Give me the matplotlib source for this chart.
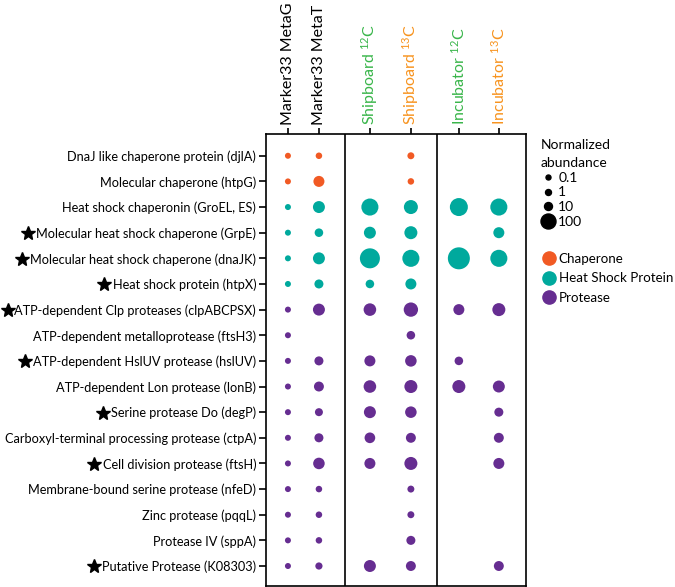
import matplotlib
matplotlib.use("Agg")
import matplotlib.pyplot as plt
import numpy as np
from matplotlib.lines import Line2D

ORANGE = "#f15a24"
TEAL = "#00a99d"
PURPLE = "#662d91"
GREEN = "#39b54a"
ORANGE_TXT = "#f7931e"

plt.rcParams.update({
    "font.family": ["Lato", "DejaVu Sans"],
    "mathtext.fontset": "custom",
    "mathtext.rm": "Lato",
    "mathtext.it": "Lato",
})

# ---- data ----
proteins = [
    "DnaJ like chaperone protein (djlA)",
    "Molecular chaperone (htpG)",
    "Heat shock chaperonin (GroEL, ES)",
    "Molecular heat shock chaperone (GrpE)",
    "Molecular heat shock chaperone (dnaJK)",
    "Heat shock protein (htpX)",
    "ATP-dependent Clp proteases (clpABCPSX)",
    "ATP-dependent metalloprotease (ftsH3)",
    "ATP-dependent HslUV protease (hslUV)",
    "ATP-dependent Lon protease (lonB)",
    "Serine protease Do (degP)",
    "Carboxyl-terminal processing protease (ctpA)",
    "Cell division protease (ftsH)",
    "Membrane-bound serine protease (nfeD)",
    "Zinc protease (pqqL)",
    "Protease IV (sppA)",
    "Putative Protease (K08303)",
]
starred = [False, False, False, True, True, True, True, False, True, False,
           True, False, True, False, False, False, True]
category = ["Chaperone", "Chaperone"] + ["Heat Shock Protein"] * 4 + ["Protease"] * 11

samples = ["Marker33 MetaG", "Marker33 MetaT",
           "Shipboard $^{12}$C", "Shipboard $^{13}$C",
           "Incubator $^{12}$C", "Incubator $^{13}$C"]
sample_colors = ["black", "black", GREEN, ORANGE_TXT, GREEN, ORANGE_TXT]

# normalized abundance per protein (rows) x sample (cols); nan = not detected
nan = np.nan
abundance = np.array([
    [1, 1.8, nan, 3, nan, nan],
    [1, 27, nan, 1.8, nan, nan],
    [1, 37, 170, 72, 215, 170],
    [1, 12, 37, 52, nan, 27],
    [1, 37, 360, 170, 600, 170],
    [1, 14, 12, 27, nan, nan],
    [1, 37, 45, 80, 27, 52],
    [1, nan, nan, 12, nan, nan],
    [1, 14, 27, 32, 12, nan],
    [1, 19, 45, 52, 52, 37],
    [1, 10, 37, 32, nan, 14],
    [1, 14, 24, 19, nan, 19],
    [1, 32, 27, 52, nan, 27],
    [1, 1.8, nan, 3, nan, nan],
    [1, 1.8, nan, 3, nan, nan],
    [1, 1.8, nan, 14, nan, nan],
    [1, 4, 37, 19, nan, 19],
])

legend_values = [0.1, 1, 10, 100]
cat_names = ["Chaperone", "Heat Shock Protein", "Protease"]
cat_colors = {"Chaperone": ORANGE, "Heat Shock Protein": TEAL, "Protease": PURPLE}

# ---- size scale: diameter in px vs log10 abundance ----
def diam_px(v):
    return np.interp(np.log10(v), [-1, 0, 1, 2, 3], [5, 6, 8, 15, 24])

def size_pts(v):
    return diam_px(v) * 0.72

fig = plt.figure(figsize=(6.75, 5.87), dpi=100)
ax = fig.add_axes([0.394, 0.0017, 0.385, 0.7705])

col_x = [22, 53, 104, 145, 193, 233]
for i in range(len(proteins)):
    for j in range(len(samples)):
        v = abundance[i, j]
        if np.isnan(v):
            continue
        ax.scatter(col_x[j], i, s=size_pts(v) ** 2, color=cat_colors[category[i]],
                   edgecolors="none", zorder=3)

for xs in [79, 171]:
    ax.axvline(xs, color="black", lw=1.2)

ax.set_xlim(0, 260)
ax.set_ylim(16.78, -0.86)
ax.xaxis.tick_top()
ax.set_xticks(col_x)
ax.set_xticklabels(samples, rotation=90, fontsize=11.5)
for lbl, c in zip(ax.get_xticklabels(), sample_colors):
    lbl.set_color(c)
ax.set_yticks(range(len(proteins)))
ax.set_yticklabels(proteins, fontsize=9.2)
ax.tick_params(axis="x", length=4, width=1.2, pad=2)
ax.tick_params(axis="y", length=5, width=1.2, pad=2)
for sp in ax.spines.values():
    sp.set_linewidth(1.2)

# size legend
size_handles = [Line2D([], [], ls="none", marker="o", color="black",
                       markersize=size_pts(v)) for v in legend_values]
leg1 = fig.legend(size_handles, ["0.1", "1", "10", "100"], title="Normalized\nabundance",
                  loc="upper left", bbox_to_anchor=(0.793, 0.772), frameon=False,
                  fontsize=10, title_fontsize=10, handletextpad=0.15, labelspacing=0.2,
                  handlelength=1.1, borderaxespad=0)
leg1._legend_box.align = "left"
leg1.get_title().set_linespacing(1.55)

cat_handles = [Line2D([], [], ls="none", marker="o", color=cat_colors[c],
                      markersize=9.5) for c in cat_names]
fig.legend(cat_handles, cat_names, loc="upper left", bbox_to_anchor=(0.795, 0.578),
           frameon=False, fontsize=9.6, handletextpad=0.25, labelspacing=0.55,
           handlelength=1.0, borderaxespad=0)

# stars in front of selected labels
fig.canvas.draw()
W, H = fig.get_size_inches() * fig.dpi
for lbl, st in zip(ax.get_yticklabels(), starred):
    if not st:
        continue
    bb = lbl.get_window_extent()
    sx = max(bb.x0 - 8.5, 8)
    fig.add_artist(Line2D([sx / W], [(bb.y0 + bb.y1) / 2 / H + 0.001],
                          marker="*", ms=10, color="black", ls="none",
                          transform=fig.transFigure))

fig.savefig("out.png", dpi=100)
